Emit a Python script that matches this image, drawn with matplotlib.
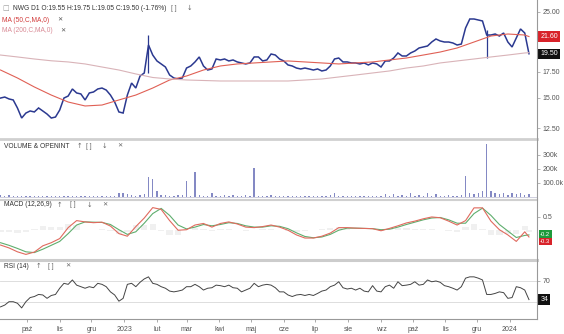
import numpy as np
import pandas as pd
import matplotlib
matplotlib.use("Agg")
import matplotlib.pyplot as plt
import matplotlib.dates as mdates
from matplotlib.ticker import NullLocator, FixedLocator
from matplotlib.lines import Line2D

plt.rcParams['font.family'] = ['Liberation Sans', 'DejaVu Sans']

# ---------------- data ----------------
start = "2022-09-06"
price_dates = pd.date_range(start, periods=126, freq="4D")
close = [14.98, 15.07, 14.90, 14.81, 14.12, 13.30, 13.70, 13.87, 13.79, 14.12,
         13.87, 13.62, 13.30, 13.38, 13.95, 14.98, 15.16, 15.81, 15.44, 15.35,
         14.81, 15.44, 15.53, 15.81, 15.90, 15.71, 15.25, 14.63, 13.79, 13.70,
         15.25, 16.38, 15.90, 17.08, 17.39, 20.54, 19.35, 18.68, 18.35, 18.02,
         17.18, 16.88, 16.78, 16.88, 17.91, 18.13, 18.57, 19.13, 18.13, 17.70,
         17.81, 18.90, 18.79, 18.90, 18.68, 18.79, 18.57, 18.46, 18.35, 18.46,
         19.13, 19.13, 18.68, 18.79, 19.47, 19.35, 18.90, 18.68, 18.24, 18.13,
         17.91, 17.81, 17.91, 17.81, 17.70, 17.81, 17.60, 17.70, 18.13, 18.90,
         19.01, 18.57, 18.57, 18.46, 18.46, 18.35, 18.46, 18.24, 18.46, 18.35,
         18.02, 18.68, 18.68, 19.01, 19.59, 19.24, 19.24, 19.59, 19.82, 20.18,
         20.30, 20.42, 20.91, 21.29, 21.04, 20.91, 20.91, 20.79, 20.54, 20.66,
         22.73, 23.98, 23.98, 23.84, 23.70, 21.80, 21.80, 21.93, 21.67, 22.06,
         20.91, 20.30, 21.42, 22.60, 22.06, 19.50]
# a few wide-range bars
bar_idx = [35, 115]
bar_high = [21.80, 22.40]
bar_low = [17.40, 19.00]

volume_k = [12, 8, 15, 10, 9, 7, 9, 6, 8, 7,
            8, 6, 9, 7, 10, 9, 8, 7, 8, 6,
            7, 8, 9, 6, 8, 7, 9, 10, 25, 30,
            18, 12, 10, 14, 20, 143, 128, 40, 15, 12,
            10, 9, 12, 14, 114, 10, 178, 12, 9, 8,
            30, 10, 8, 12, 9, 11, 8, 10, 12, 9,
            207, 10, 8, 9, 12, 8, 10, 8, 9, 7,
            8, 10, 9, 8, 7, 9, 8, 10, 12, 25,
            10, 8, 9, 7, 8, 9, 10, 8, 9, 8,
            10, 18, 9, 20, 10, 12, 9, 25, 10, 12,
            9, 25, 10, 22, 10, 8, 12, 9, 10, 14,
            150, 30, 20, 25, 40, 378, 45, 30, 20, 25,
            15, 30, 20, 25, 15, 20]

ma_dates = list(pd.date_range(start, periods=32, freq="16D")) + [pd.Timestamp("2024-01-19")]
ma50 = [17.70, 16.88, 16.00, 15.25, 14.63, 14.29, 14.37, 14.81, 15.25, 15.90,
        16.68, 17.08, 17.70, 18.13, 18.35, 18.46, 18.57, 18.68, 18.57, 18.46,
        18.35, 18.46, 18.57, 18.79, 19.01, 19.35, 19.70, 20.18, 20.91, 21.67,
        21.93, 21.80, 21.60]
ma200 = [19.35, 19.13, 18.90, 18.70, 18.57, 18.35, 18.02, 17.70, 17.29, 16.93,
         16.78, 16.68, 16.63, 16.58, 16.58, 16.58, 16.58, 16.58, 16.68, 16.78,
         16.98, 17.18, 17.39, 17.60, 17.91, 18.13, 18.46, 18.68, 18.90, 19.13,
         19.35, 19.59, 19.62]

macd_dates = list(pd.date_range(start, periods=63, freq="8D")) + [pd.Timestamp("2024-01-19")]
macd = [-0.59, -0.70, -0.85, -0.95, -0.86, -0.62, -0.50, -0.34, 0.08, 0.35,
        0.30, 0.27, 0.29, 0.14, -0.15, -0.25, 0.12, 0.45, 0.85, 0.78,
        0.35, -0.02, 0.00, 0.18, 0.24, 0.10, 0.24, 0.30, 0.22, 0.10,
        0.08, 0.12, 0.18, 0.10, -0.02, -0.20, -0.32, -0.32, -0.25, -0.13,
        0.08, 0.08, 0.06, 0.05, 0.04, -0.04, 0.05, 0.15, 0.26, 0.33,
        0.42, 0.49, 0.46, 0.33, 0.18, 0.35, 0.84, 0.84, 0.33, 0.00,
        -0.20, -0.45, -0.08, -0.28]
signal = [-0.50, -0.60, -0.72, -0.85, -0.88, -0.75, -0.60, -0.45, -0.15, 0.18,
          0.30, 0.29, 0.28, 0.20, 0.00, -0.18, -0.08, 0.25, 0.62, 0.82,
          0.55, 0.18, 0.03, 0.10, 0.20, 0.15, 0.20, 0.27, 0.24, 0.15,
          0.10, 0.10, 0.15, 0.13, 0.04, -0.12, -0.26, -0.31, -0.28, -0.18,
          -0.02, 0.06, 0.06, 0.05, 0.04, 0.00, 0.02, 0.10, 0.20, 0.29,
          0.38, 0.45, 0.47, 0.38, 0.25, 0.25, 0.62, 0.83, 0.55, 0.20,
          -0.05, -0.30, -0.22, -0.20]

rsi = [20, 23.5, 30, 30, 27, 18, 30, 38, 40, 44,
       43, 36.5, 42, 44, 56, 65.5, 63.5, 72, 62, 59,
       56, 59, 57, 65.5, 63.5, 59, 49, 43, 31, 36.5,
       63.5, 65.5, 59, 67.5, 74, 78, 65.5, 63.5, 59, 56,
       50.5, 49, 50.5, 52.5, 59, 59, 63.5, 59, 52.5, 56,
       57, 62, 61, 59, 62, 57, 56, 49, 52.5, 56,
       65.5, 59, 62, 63.5, 62, 57, 49, 49, 43, 40,
       43, 44, 42, 44, 42, 46, 50.5, 52.5, 59, 62,
       68.5, 57, 54.5, 56, 52.5, 56, 50.5, 49, 61, 50.5,
       49, 59, 62, 56, 68.5, 61, 62, 63.5, 68.5, 62,
       63.5, 72, 68.5, 70, 67.5, 61, 59, 56, 52.5, 59,
       75.5, 78, 78, 75.5, 72, 44, 44, 46, 49, 47.5,
       36.5, 38, 59, 57, 52.5, 34]

month_names = ["sty", "lut", "mar", "kwi", "maj", "cze", "lip", "sie", "wrz", "paź", "lis", "gru"]

# ---------------- layout ----------------
W, H = 564, 334
fig = plt.figure(figsize=(W / 100, H / 100), dpi=100)
fig.patch.set_facecolor("white")
RIGHT = 537

def add_ax(top, bottom):
    return fig.add_axes([0, 1 - bottom / H, RIGHT / W, (bottom - top) / H])

ax_p = add_ax(0, 137)
ax_v = add_ax(141, 199)
ax_m = add_ax(201, 258)
ax_r = add_ax(261, 319)

x0 = mdates.date2num(pd.Timestamp("2022-09-05 12:00"))
x1 = x0 + RIGHT / 1.0569
tick_col = "#555555"
for ax in (ax_p, ax_v, ax_m, ax_r):
    ax.set_xlim(x0, x1)
    for s in ax.spines.values():
        s.set_visible(False)
    ax.yaxis.tick_right()
    ax.tick_params(axis="y", length=2, width=0.5, colors="#999999", labelsize=5,
                   labelcolor=tick_col, pad=2)
    ax.tick_params(axis="x", bottom=False, labelbottom=False)
    ax.set_facecolor("none")

pd_num = mdates.date2num(price_dates)

# price panel
ax_p.set_yscale("log")
ax_p.set_ylim(11.88, 26.85)
ax_p.plot(pd_num, close, color="#2b3990", lw=1.1, solid_joinstyle="miter")
ax_p.vlines(pd_num[bar_idx], bar_low, bar_high, color="#2b3990", lw=0.9)
ax_p.plot(mdates.date2num(ma_dates), ma50, color="#e06055", lw=0.8)
ax_p.plot(mdates.date2num(ma_dates), ma200, color="#d9b3b8", lw=0.8)
ax_p.yaxis.set_major_locator(FixedLocator([12.5, 15, 17.5, 25]))
ax_p.yaxis.set_minor_locator(NullLocator())
ax_p.set_yticklabels(["12.50", "15.00", "17.50", "25.00"])
ytr = ax_p.get_yaxis_transform()
ax_p.text(1.006, ma50[-1], f"{ma50[-1]:.2f}", transform=ytr, fontsize=5, color="white",
          va="center", ha="left", bbox=dict(boxstyle="square,pad=0.25", fc="#d8232a", ec="none"))
ax_p.text(1.006, close[-1], f"{close[-1]:.2f}", transform=ytr, fontsize=5, color="white",
          va="center", ha="left", bbox=dict(boxstyle="square,pad=0.25", fc="#111111", ec="none"))

# volume panel
ax_v.set_ylim(-14300, 400000)
ax_v.bar(pd_num, np.array(volume_k) * 1000, width=1.3, color="#8489c4", linewidth=0)
ax_v.axhline(0, color="#c8c8d8", lw=0.6)
ax_v.yaxis.set_major_locator(FixedLocator([100000, 200000, 300000]))
ax_v.set_yticklabels(["100.0k", "200k", "300k"])

# MACD panel
ax_m.set_ylim(-1.088, 1.104)
md_num = mdates.date2num(macd_dates)
hist = np.array(macd) - np.array(signal)
ax_m.bar(md_num, hist, width=6, color="#f0f0f0", linewidth=0)
ax_m.plot(md_num, signal, color="#5fae6e", lw=0.8)
ax_m.plot(md_num, macd, color="#e06a5e", lw=0.8)
ax_m.yaxis.set_major_locator(FixedLocator([0.5]))
ax_m.set_yticklabels(["0.5"])
mtr = ax_m.get_yaxis_transform()
ax_m.text(1.006, -0.44, "-0.3", transform=mtr, fontsize=4.2, color="white", va="center",
          ha="left", bbox=dict(boxstyle="square,pad=0.2", fc="#d8232a", ec="none"))
ax_m.text(1.006, -0.17, "-0.2", transform=mtr, fontsize=4.2, color="white", va="center",
          ha="left", bbox=dict(boxstyle="square,pad=0.2", fc="#1e9a3c", ec="none"))

# RSI panel
ax_r.set_ylim(-3.4, 108.6)
ax_r.axhline(70, color="#d8d8d8", lw=0.6)
ax_r.axhline(30, color="#d8d8d8", lw=0.6)
ax_r.plot(pd_num, rsi, color="#444444", lw=0.7)
ax_r.yaxis.set_major_locator(FixedLocator([70]))
ax_r.set_yticklabels(["70"])
rtr = ax_r.get_yaxis_transform()
ax_r.text(1.006, rsi[-1], f"{rsi[-1]:.0f}", transform=rtr, fontsize=5, color="white",
          va="center", ha="left", bbox=dict(boxstyle="square,pad=0.25", fc="#111111", ec="none"))

# month ticks on the bottom axis
months = pd.date_range("2022-10-01", "2024-01-01", freq="MS")
ax_r.set_xticks(mdates.date2num(months))
ax_r.set_xticklabels([str(m.year) if m.month == 1 else month_names[m.month - 1] for m in months])
ax_r.tick_params(axis="x", bottom=True, labelbottom=True, length=2, width=0.5,
                 colors="#888888", labelsize=5, labelcolor=tick_col, pad=3)

# separators / borders
def hline(y, lw, col):
    fig.add_artist(Line2D([0, RIGHT / W], [1 - y / H, 1 - y / H], lw=lw, color=col))

hline(138.5, 2.0, "#d0d0d0")
hline(199.8, 1.5, "#d0d0d0")
hline(259.5, 2.2, "#cccccc")
hline(319.3, 0.8, "#999999")
fig.add_artist(Line2D([RIGHT / W, RIGHT / W], [1 - 319.3 / H, 1], lw=0.8, color="#999999"))

# panel titles
def ftext(x, y, s, **kw):
    kw.setdefault("fontsize", 4.8)
    kw.setdefault("color", "#333333")
    fig.text(x / W, 1 - y / H, s, va="center", ha="left", **kw)

ftext(2, 8, "\u25a1", fontsize=5, color="#999999", family=["DejaVu Sans"])
ftext(13, 8, "NWG D1 O:19.55 H:19.75 L:19.05 C:19.50 (-1.76%)")
ftext(171, 8, "[ ]", color="#666666")
ftext(187, 8, "\u2193", color="#666666", family=["DejaVu Sans"])
ftext(2, 20, "MA (50,C,MA,0)", color="#d23b3b")
ftext(57, 20, "\u2715", color="#555555", family=["DejaVu Sans"], fontsize=4.5)
ftext(2, 31, "MA (200,C,MA,0)", color="#d98a95")
ftext(60, 31, "\u2715", color="#555555", family=["DejaVu Sans"], fontsize=4.5)

ftext(4, 146, "VOLUME & OPENINT")
ftext(77, 146, "\u2191", color="#666666", family=["DejaVu Sans"])
ftext(86, 146, "[ ]", color="#666666")
ftext(102, 146, "\u2193", color="#666666", family=["DejaVu Sans"])
ftext(117, 146, "\u2715", color="#666666", family=["DejaVu Sans"], fontsize=4.5)

ftext(4, 205, "MACD (12,26,9)")
ftext(57, 205, "\u2191", color="#666666", family=["DejaVu Sans"])
ftext(70, 205, "[ ]", color="#666666")
ftext(87, 205, "\u2193", color="#666666", family=["DejaVu Sans"])
ftext(102, 205, "\u2715", color="#666666", family=["DejaVu Sans"], fontsize=4.5)

ftext(4, 266, "RSI (14)")
ftext(36, 266, "\u2191", color="#666666", family=["DejaVu Sans"])
ftext(48, 266, "[ ]", color="#666666")
ftext(65, 266, "\u2715", color="#666666", family=["DejaVu Sans"], fontsize=4.5)

fig.savefig("out.png", dpi=100)
